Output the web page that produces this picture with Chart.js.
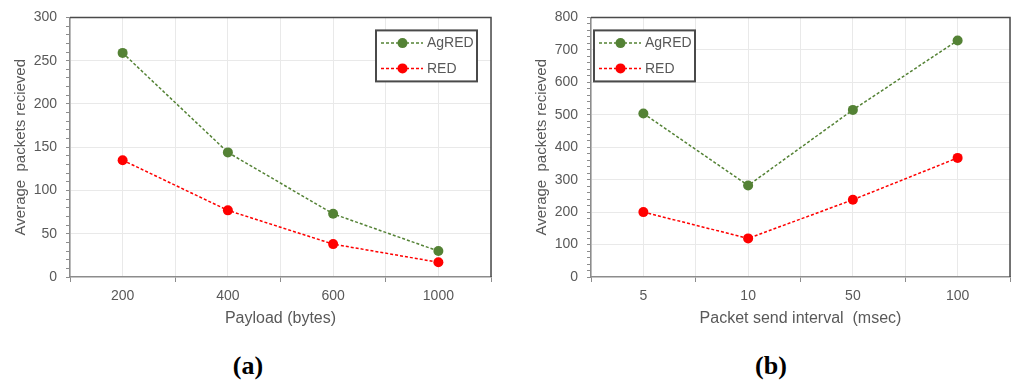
<!DOCTYPE html>
<html>
<head>
<meta charset="utf-8">
<script src="https://cdn.jsdelivr.net/npm/chart.js@4"></script>
<style>
  html, body { margin: 0; padding: 0; background: #ffffff; }
  body { width: 1015px; height: 382px; position: relative; overflow: hidden; }
  .panel { position: absolute; top: 0; }
  .cap { position: absolute; top: 350px; height: 32px; line-height: 32px; width: 100px; text-align: center;
         font-family: "Liberation Serif", "DejaVu Serif", serif; font-weight: bold; font-size: 26px; color: #000; }
</style>
</head>
<body>
<div class="panel" style="left:0px;width:500px;height:340px;"><canvas id="chartA" width="500" height="340"></canvas></div>
<div class="panel" style="left:500px;width:515px;height:340px;"><canvas id="chartB" width="515" height="340"></canvas></div>
<div class="cap" style="left:198px;">(a)</div>
<div class="cap" style="left:721px;">(b)</div>
<script>
// ---- data ----
const payloadLabels = ['200', '400', '600', '1000'];
const agredPayload = [259, 144, 73, 30];
const redPayload = [135, 77, 38, 17];

const intervalLabels = ['5', '10', '50', '100'];
const agredInterval = [504, 282, 515, 729];
const redInterval = [200, 119, 238, 367];

const seriesNames = ['AgRED', 'RED'];
const yTitle = 'Average  packets recieved';
const xTitleA = 'Payload (bytes)';
const xTitleB = 'Packet send interval  (msec)';

// ---- styling ----
const GREEN = '#548235';
const RED = '#ff0000';
const TEXT = '#595959';
const GRID = '#e9e9e9';
const AXIS = '#8c8c8c';
const FRAME = '#4a4a4a';
const FONT = '"Liberation Sans", Arial, sans-serif';

const framePlugin = {
  id: 'frame',
  beforeDatasetsDraw(chart) {
    const { ctx, chartArea: a } = chart;
    ctx.save();
    ctx.strokeStyle = FRAME;
    ctx.lineWidth = 1.5;
    ctx.beginPath();
    ctx.moveTo(a.left, a.top);
    ctx.lineTo(a.right, a.top);
    ctx.lineTo(a.right, a.bottom);
    ctx.stroke();
    ctx.restore();
  }
};

const boxLegendPlugin = {
  id: 'boxLegend',
  afterDraw(chart, args, opts) {
    const { ctx, chartArea: a } = chart;
    const w = 101, h = 51;
    const x = opts.side === 'right' ? a.right - opts.inset - w : a.left + opts.inset;
    const y = a.top + 13;
    ctx.save();
    ctx.fillStyle = '#ffffff';
    ctx.fillRect(x, y, w, h);
    ctx.strokeStyle = FRAME;
    ctx.lineWidth = 2;
    ctx.strokeRect(x, y, w, h);
    chart.data.datasets.forEach((ds, i) => {
      const ry = y + 12.7 + i * 25.3;
      ctx.strokeStyle = ds.borderColor;
      ctx.lineWidth = 1.5;
      ctx.setLineDash([3, 2]);
      ctx.beginPath();
      ctx.moveTo(x + 5, ry);
      ctx.lineTo(x + 47, ry);
      ctx.stroke();
      ctx.setLineDash([]);
      ctx.fillStyle = ds.borderColor;
      ctx.beginPath();
      ctx.arc(x + 26.5, ry, 5, 0, Math.PI * 2);
      ctx.fill();
      ctx.fillStyle = TEXT;
      ctx.font = '14px ' + FONT;
      ctx.textBaseline = 'middle';
      ctx.textAlign = 'left';
      ctx.fillText(ds.label, x + 51, ry + 0.5);
    });
    ctx.restore();
  }
};

function makeDataset(label, data, color) {
  return {
    label, data,
    borderColor: color, backgroundColor: color,
    borderWidth: 1.5, borderDash: [3, 2],
    pointRadius: 5, pointHoverRadius: 5,
    pointBackgroundColor: color, pointBorderColor: color, pointBorderWidth: 0,
    tension: 0, fill: false
  };
}

function makeChart(id, labels, s1, s2, yMax, minorStep, majorStep, xTitle, padding, side, inset) {
  return new Chart(document.getElementById(id), {
    type: 'line',
    data: {
      labels,
      datasets: [makeDataset(seriesNames[0], s1, GREEN), makeDataset(seriesNames[1], s2, RED)]
    },
    options: {
      responsive: false,
      animation: false,
      devicePixelRatio: 1,
      layout: { padding },
      plugins: {
        legend: { display: false },
        tooltip: { enabled: false },
        boxLegend: { side, inset }
      },
      scales: {
        x: {
          type: 'category',
          offset: true,
          grid: { offset: true, color: GRID, tickColor: AXIS, tickLength: 5, lineWidth: 1 },
          border: { display: true, color: AXIS, width: 1.5 },
          ticks: { color: TEXT, font: { family: FONT, size: 14 }, padding: 6, maxRotation: 0 },
          title: { display: true, text: xTitle, color: TEXT, font: { family: FONT, size: 16 }, padding: { top: 0, bottom: 2 } },
          afterFit(s) { s.height = 53; }
        },
        x2: {
          type: 'category',
          position: 'top',
          offset: true,
          grid: { offset: false, color: GRID, drawTicks: false, lineWidth: 1 },
          border: { display: false },
          ticks: { display: false },
          afterFit(s) { s.height = 0; }
        },
        y: {
          min: 0, max: yMax,
          ticks: {
            stepSize: minorStep, autoSkip: false,
            color: TEXT, font: { family: FONT, size: 14 }, padding: 9,
            callback: (v) => (v % majorStep === 0 ? String(v) : '')
          },
          grid: {
            color: (c) => (c.tick && c.tick.value % majorStep === 0 && c.tick.value !== 0 ? GRID : 'rgba(0,0,0,0)'),
            tickColor: AXIS, tickLength: 4, lineWidth: 1
          },
          border: { display: true, color: AXIS, width: 1.5 },
          title: { display: true, text: yTitle, color: TEXT, font: { family: FONT, size: 15 }, padding: { top: 12, bottom: 0 } },
          afterFit(s) { s.width = 70; }
        }
      }
    },
    plugins: [framePlugin, boxLegendPlugin]
  });
}

makeChart('chartA', payloadLabels, agredPayload, redPayload, 300, 10, 50, xTitleA,
  { left: 0, top: 17, right: 9, bottom: 10 }, 'right', 14);
makeChart('chartB', intervalLabels, agredInterval, redInterval, 800, 20, 100, xTitleB,
  { left: 21, top: 17, right: 3, bottom: 10 }, 'left', 3);
</script>
</body>
</html>
